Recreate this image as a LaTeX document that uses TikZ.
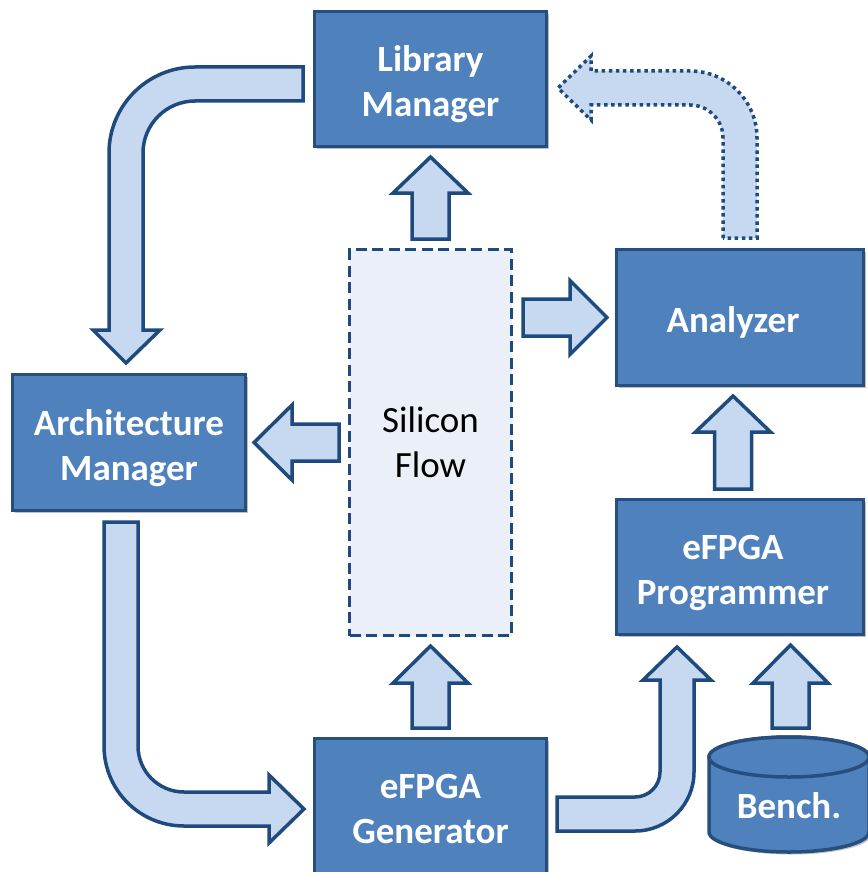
\documentclass[tikz,border=0pt]{standalone}
\usepackage{fontspec}
\setmainfont{Carlito}
\usetikzlibrary{shadows}
\definecolor{boxfill}{HTML}{4F81BD}
\definecolor{boxline}{HTML}{264F80}
\definecolor{arrfill}{HTML}{C6D9F0}
\definecolor{arrline}{HTML}{1F4A7E}
\definecolor{silfill}{HTML}{EBF0F8}
\newcommand\boxfont{\fontsize{37}{45}\selectfont\bfseries}
\newcommand\silfont{\fontsize{37}{45}\selectfont}
\newcommand\boxtext[2][0pt]{\raisebox{-6pt}[\height][\depth]{\kern#1\begin{tabular}{@{}c@{}}#2\end{tabular}\kern-#1}}
\newcommand\blkup[4]{%
  \draw[blkarrow] (#1,#2) -- ({#1+37.5},#3) -- ({#1+18.5},#3) -- ({#1+18.5},#4)
    -- ({#1-18.5},#4) -- ({#1-18.5},#3) -- ({#1-37.5},#3) -- cycle;}
\tikzset{
  mainbox/.style={draw=boxline, fill=boxfill, line width=3.5pt, text=white,
    font=\boxfont, align=center, inner sep=0pt,
    drop shadow={shadow xshift=2.5pt, shadow yshift=-2.5pt, opacity=0.25, fill=black}},
  silbox/.style={draw=arrline, fill=silfill, line width=3.5pt,
    dash pattern=on 11pt off 5.5pt, font=\silfont, align=center, inner sep=0pt},
  blkarrow/.style={draw=arrline, fill=arrfill, line width=3.5pt, line join=miter},
  dotarrow/.style={draw=arrline, fill=arrfill, line width=3.5pt, dash pattern=on 3.5pt off 3.6pt},
}
\begin{document}
\begin{tikzpicture}[x=1pt, y=-1pt]
\useasboundingbox (0,0) rectangle (867,872);
% boxes
\node[mainbox, minimum width=232pt, minimum height=135pt] (lib) at (430.5,79) {\boxtext{Library\\Manager}};
\node[mainbox, minimum width=247pt, minimum height=136pt] (ana) at (740,317.5) {\boxtext[-7pt]{Analyzer}};
\node[mainbox, minimum width=233pt, minimum height=136pt] (arch) at (129,442.5) {\boxtext{Architecture\\Manager}};
\node[mainbox, minimum width=247pt, minimum height=135pt] (prog) at (740,567) {\boxtext[-7pt]{eFPGA\\Programmer}};
\node[mainbox, minimum width=232pt, minimum height=135pt] (gen) at (430.5,806) {\boxtext{eFPGA\\Generator}};
\node[silbox, minimum width=162pt, minimum height=386pt] (sil) at (430.5,442.5) {Silicon\\Flow};
% bench cylinder
\draw[draw=boxline, fill=boxfill, line width=3.5pt,
  drop shadow={shadow xshift=2.5pt, shadow yshift=-2.5pt, opacity=0.25, fill=black}]
  (709,757) -- (709,832) arc[start angle=180, end angle=0, x radius=80, y radius=20]
  -- (869,757) arc[start angle=0, end angle=-180, x radius=80, y radius=20] -- cycle;
\draw[draw=boxline, fill=boxfill, line width=3.5pt] (789,757) ellipse[x radius=80, y radius=20];
\node[text=white, font=\boxfont, inner sep=0pt] (bench) at (789,806) {Bench.};
% straight block arrows
\blkup{430.5}{157}{193}{239}
\blkup{430.5}{646}{683}{728}
\blkup{733}{396}{432}{489}
\blkup{790.5}{645}{683}{728}
\draw[blkarrow] (607,317.5) -- (570,280.5) -- (570,299) -- (523,299) -- (523,336) -- (570,336) -- (570,354.5) -- cycle;
\draw[blkarrow] (254,442.5) -- (292,405) -- (292,424) -- (339,424) -- (339,461) -- (292,461) -- (292,480) -- cycle;
% library -> architecture
\draw[blkarrow] (303,67) -- (195,67) arc[start angle=270, end angle=180, radius=86]
  -- (109,330) -- (93,330) -- (126,363) -- (160,330) -- (143,330) -- (143,153)
  arc[start angle=180, end angle=270, radius=52] -- (303,101) -- cycle;
% architecture -> generator
\draw[blkarrow] (104,522) -- (104,746) arc[start angle=180, end angle=90, radius=80]
  -- (269,826) -- (269,843) -- (304,809) -- (269,775) -- (269,792) -- (184,792)
  arc[start angle=90, end angle=180, radius=46] -- (138,522) -- cycle;
% generator -> programmer
\draw[blkarrow] (557,797) -- (635,797) arc[start angle=90, end angle=0, radius=25]
  -- (660,680) -- (643,680) -- (677,647) -- (711,680) -- (694,680) -- (694,772)
  arc[start angle=0, end angle=90, radius=59] -- (557,831) -- cycle;
% analyzer -> library (dotted)
\draw[dotarrow] (723,238) -- (723,138) arc[start angle=0, end angle=-90, radius=33]
  -- (591,105) -- (591,120) -- (558,88) -- (591,56) -- (591,71) -- (690,71)
  arc[start angle=-90, end angle=0, radius=67] -- (757,238) -- cycle;
\end{tikzpicture}
\end{document}
